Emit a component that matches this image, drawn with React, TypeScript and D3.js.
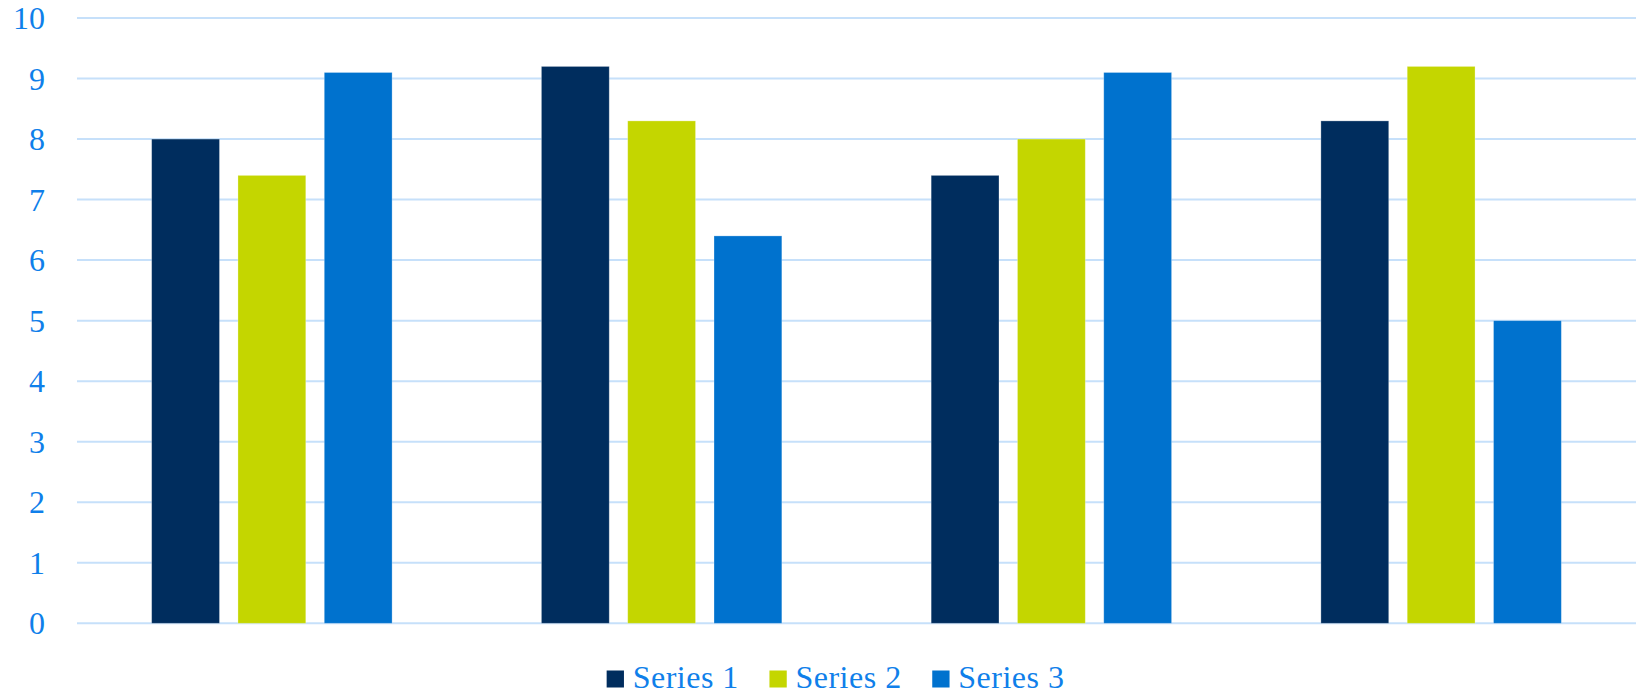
import React from "react";
import * as d3 from "d3";

const categories = ["Category 1", "Category 2", "Category 3", "Category 4"];
const seriesNames = ["Series 1", "Series 2", "Series 3"];
const series1 = [8.0, 9.2, 7.4, 8.3];
const series2 = [7.4, 8.3, 8.0, 9.2];
const series3 = [9.1, 6.4, 9.1, 5.0];
const yTicks = [0, 1, 2, 3, 4, 5, 6, 7, 8, 9, 10];
const colors = ["#002D5E", "#C4D600", "#0072CE"];

const W = 1643;
const H = 695;
const FONT = "'Liberation Serif', 'Times New Roman', serif";
const TEXT_COLOR = "#0F7FEA";
const GRID_COLOR = "#C6E0FA";

export default function App() {
  const values = [series1, series2, series3];
  const plotLeft = 77;
  const plotRight = 1636;
  const x0 = d3.scaleBand<string>().domain(categories).range([plotLeft, plotRight]).paddingInner(0).paddingOuter(0);
  const x1 = d3
    .scaleBand<string>()
    .domain(seriesNames)
    .range([0, x0.bandwidth()])
    .paddingInner(0.214)
    .paddingOuter(0.865);
  const y = d3.scaleLinear().domain([0, 10]).range([623.3, 18]);

  const legendPitch = 162.8;
  const legendTotal = 455.3;
  const legendStart = 834.3 - legendTotal / 2;

  return (
    <svg
      width={W}
      height={H}
      style={{ position: "absolute", left: 0, top: 0, background: "#fff" }}
    >
      <g className="grid">
        {yTicks.map((t) => (
          <line
            key={t}
            x1={plotLeft}
            x2={plotRight}
            y1={y(t)}
            y2={y(t)}
            stroke={GRID_COLOR}
            strokeWidth={2}
          />
        ))}
      </g>
      <g className="ylabels">
        {yTicks.map((t) => (
          <text
            key={t}
            x={45}
            y={y(t) + 11}
            textAnchor="end"
            fontFamily={FONT}
            fontSize={32}
            fill={TEXT_COLOR}
          >
            {t}
          </text>
        ))}
      </g>
      {categories.map((c, ci) => (
        <g key={c} transform={`translate(${x0(c)},0)`}>
          {seriesNames.map((s, si) => {
            const v = values[si][ci];
            return (
              <rect
                key={s}
                x={x1(s)}
                y={y(v)}
                width={x1.bandwidth()}
                height={y(0) - y(v)}
                fill={colors[si]}
                stroke="rgba(255,255,255,0.35)"
                strokeWidth={0.8}
              />
            );
          })}
        </g>
      ))}
      {seriesNames.map((s, si) => {
        const lx = legendStart + si * legendPitch;
        return (
          <g key={s} transform={`translate(${lx},0)`}>
            <rect x={0} y={670.5} width={17.3} height={17} fill={colors[si]} />
            <text
              x={26}
              y={688}
              fontFamily={FONT}
              fontSize={32}
              letterSpacing={0.5}
              fill={TEXT_COLOR}
            >
              {s}
            </text>
          </g>
        );
      })}
    </svg>
  );
}
